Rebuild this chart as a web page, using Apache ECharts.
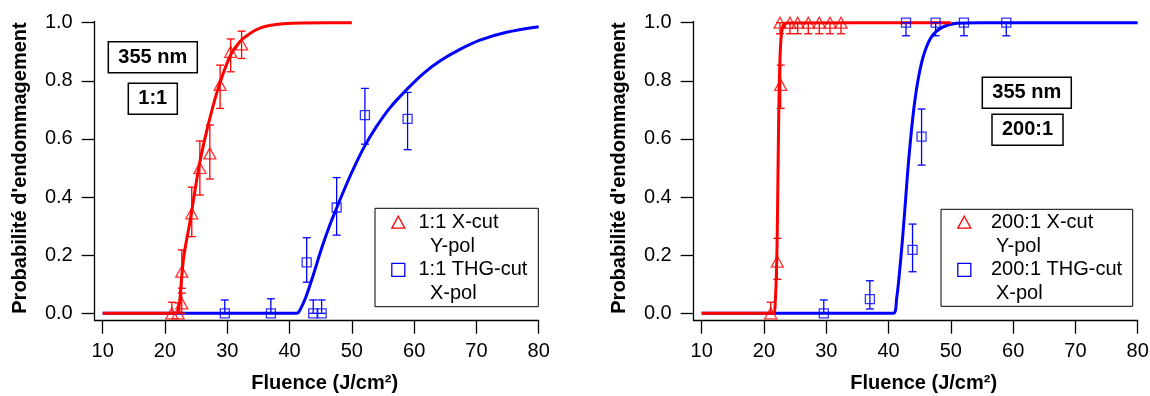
<!DOCTYPE html>
<html><head><meta charset="utf-8">
<script src="https://cdn.jsdelivr.net/npm/echarts@6/dist/echarts.min.js"></script>
<style>html,body{margin:0;padding:0;background:#fff}#c{width:1150px;height:396px}</style>
</head><body><div id="c"></div>
<script>
// ---------- data ----------
// Left panel, 1:1 X-cut Y-pol (red triangles)
const l11XcutX    = [21.1, 22.1, 22.7, 22.7, 24.3, 25.6, 27.2, 28.85, 30.55, 32.3];
const l11XcutY    = [0, 0, 0.034, 0.143, 0.344, 0.50, 0.55, 0.786, 0.90, 0.925];
const l11XcutLow  = [0, 0, 0, 0.086, 0.264, 0.407, 0.462, 0.705, 0.831, 0.877];
const l11XcutHigh = [0.038, 0.036, 0.07, 0.218, 0.434, 0.593, 0.648, 0.854, 0.944, 0.971];
// Left panel, 1:1 THG-cut X-pol (blue squares)
const l11ThgX    = [29.6, 37.0, 42.75, 43.8, 45.15, 47.56, 52.1, 58.95];
const l11ThgY    = [0, 0, 0.175, 0, 0, 0.364, 0.682, 0.669];
const l11ThgLow  = [0, 0, 0.107, 0, 0, 0.269, 0.582, 0.563];
const l11ThgHigh = [0.046, 0.05, 0.26, 0.046, 0.046, 0.467, 0.774, 0.76];
// Left panel fitted curves
const l11XcutFitX = [10, 21.85, 22.3, 22.62, 23.05, 24.01, 24.7, 25.5, 26.42, 27.33, 28.29, 29.36, 30.54, 32.04, 33.64, 35.25, 37, 39, 42, 46, 50];
const l11XcutFitY = [0, 0, 0.029, 0.109, 0.2, 0.315, 0.407, 0.51, 0.602, 0.682, 0.757, 0.826, 0.889, 0.935, 0.963, 0.981, 0.991, 0.996, 0.999, 1, 1];
const l11ThgFitX = [10, 41.13, 41.94, 42.74, 43.81, 45.15, 46.48, 47.56, 49.16, 50.76, 52.1, 53.97, 56.11, 58.95, 61.47, 64.14, 67.35, 70.56, 74.84, 80];
const l11ThgFitY = [0, 0, 0.023, 0.063, 0.132, 0.224, 0.305, 0.362, 0.445, 0.52, 0.577, 0.643, 0.707, 0.773, 0.825, 0.868, 0.908, 0.940, 0.967, 0.986];

// Right panel, 200:1 X-cut Y-pol (red triangles)
const r200XcutX    = [21.08, 22.14, 22.68, 22.57, 24.17, 25.41, 27.11, 28.88, 30.6, 32.37];
const r200XcutY    = [0, 0.178, 0.786, 1, 1, 1, 1, 1, 1, 1];
const r200XcutLow  = [0, 0.117, 0.705, 0.962, 0.962, 0.962, 0.962, 0.962, 0.962, 0.962];
const r200XcutHigh = [0.038, 0.258, 0.854, 1, 1, 1, 1, 1, 1, 1];
// Right panel, 200:1 THG-cut X-pol (blue squares)
const r200ThgX    = [29.6, 37.0, 42.8, 43.85, 45.3, 47.56, 52.1, 58.9];
const r200ThgY    = [0, 0.049, 1, 0.218, 0.608, 1, 1, 1];
const r200ThgLow  = [0, 0.015, 0.955, 0.143, 0.51, 0.955, 0.955, 0.955];
const r200ThgHigh = [0.046, 0.112, 1, 0.307, 0.703, 1, 1, 1];
// Right panel fitted curves
const r200XcutFitX = [10, 21.6, 21.81, 21.97, 22.09, 22.2, 22.3, 22.41, 22.57, 22.78, 23.1, 23.64, 50];
const r200XcutFitY = [0, 0, 0.04, 0.12, 0.224, 0.396, 0.568, 0.74, 0.877, 0.958, 0.992, 0.999, 1];
const r200ThgFitX = [10, 40.75, 41.3, 41.72, 42.2, 42.63, 43.07, 43.55, 44.13, 44.88, 45.73, 46.92, 48.52, 50.93, 54.67, 80];
const r200ThgFitY = [0, 0, 0.052, 0.132, 0.246, 0.361, 0.487, 0.602, 0.717, 0.82, 0.895, 0.952, 0.983, 0.998, 1, 1];

// Axis settings
const xMin = 10, xMax = 80, xStep = 10;
const yMin = 0, yMax = 1, yStep = 0.2;
const xTitle = 'Fluence (J/cm²)';
const yTitle = "Probabilité d'endommagement";

// ---------- chart ----------
const RED = '#ff0000', BLUE = '#0000ff';
const FF = "'Liberation Sans', Arial, Helvetica, sans-serif";
const zip = (a, b) => a.map((v, i) => [v, b[i]]);
const zip3 = (a, b, c) => a.map((v, i) => [v, b[i], c[i]]);

function fitLine(xs, ys, color, gi, z) {
  return { type: 'line', xAxisIndex: gi, yAxisIndex: gi, data: zip(xs, ys),
    showSymbol: false, symbol: 'none', smooth: 0.3, clip: false, z: z,
    lineStyle: { color: color, width: 3 }, silent: true, animation: false };
}
function markers(xs, ys, symbol, size, color, gi) {
  return { type: 'scatter', xAxisIndex: gi, yAxisIndex: gi, data: zip(xs, ys),
    symbol: symbol, symbolSize: size, clip: false, z: 5,
    itemStyle: { color: 'rgba(0,0,0,0)', borderColor: color, borderWidth: 1.3 }, animation: false };
}
function errBars(xs, lo, hi, color, gi) {
  return { type: 'custom', xAxisIndex: gi, yAxisIndex: gi, data: zip3(xs, lo, hi),
    encode: { x: 0, y: [1, 2] }, clip: false, z: 4, animation: false,
    renderItem: function (params, api) {
      const x = api.value(0);
      const p1 = api.coord([x, api.value(1)]);
      const p2 = api.coord([x, api.value(2)]);
      const w = 4;
      const st = { stroke: color, lineWidth: 1.3, fill: null };
      return { type: 'group', children: [
        { type: 'line', shape: { x1: p1[0], y1: p1[1], x2: p2[0], y2: p2[1] }, style: st },
        { type: 'line', shape: { x1: p1[0] - w, y1: p1[1], x2: p1[0] + w, y2: p1[1] }, style: st },
        { type: 'line', shape: { x1: p2[0] - w, y1: p2[1], x2: p2[0] + w, y2: p2[1] }, style: st }
      ] };
    } };
}

function mainX(gi) {
  return { gridIndex: gi, type: 'value', min: xMin, max: xMax, interval: xStep, offset: 7.4,
    axisLine: { show: false, onZero: false },
    axisTick: { show: true, length: 13, lineStyle: { color: '#000', width: 1.3 } },
    axisLabel: { fontSize: 20, color: '#000', margin: 21, fontFamily: FF },
    splitLine: { show: false },
    name: xTitle, nameLocation: 'middle', nameGap: 53,
    nameTextStyle: { fontSize: 20, fontWeight: 'bold', color: '#000', fontFamily: FF, padding: [0, 0, 0, 8] } };
}
function mainY(gi) {
  return { gridIndex: gi, type: 'value', min: yMin, max: yMax, interval: yStep, offset: 8,
    axisLine: { show: false, onZero: false },
    axisTick: { show: true, length: 13, lineStyle: { color: '#000', width: 1.3 } },
    axisLabel: { fontSize: 20, color: '#000', margin: 22, fontFamily: FF, formatter: v => v.toFixed(1) },
    splitLine: { show: false },
    name: yTitle, nameLocation: 'middle', nameGap: 64, nameRotate: 90,
    nameTextStyle: { fontSize: 20, fontWeight: 'bold', color: '#000', fontFamily: FF } };
}
function frameAxis(gi) {
  return { gridIndex: gi, type: 'value', min: 0, max: 1,
    axisLine: { show: true, onZero: false, lineStyle: { color: '#000', width: 1.3 } },
    axisTick: { show: false }, axisLabel: { show: false }, splitLine: { show: false } };
}

function boxTitle(text, left, top) {
  return { text: text, left: left, top: top, padding: [5, 10], borderColor: '#000', borderWidth: 1.5,
    textStyle: { fontSize: 20, fontWeight: 'bold', color: '#000', fontFamily: FF, lineHeight: 21 } };
}

function legendBox(x, y, w, h, symX, textX1, textX2, rows, labels) {
  const tri = 6.5;
  const txt = (t, tx, ty) => ({ type: 'text', x: tx, y: ty, z: 10,
    style: { text: t, fontSize: 20, fontFamily: FF, fill: '#000', verticalAlign: 'middle', align: 'left' } });
  return [
    { type: 'rect', z: 9, shape: { x: x, y: y, width: w, height: h }, style: { fill: 'rgba(0,0,0,0)', stroke: '#000', lineWidth: 1 } },
    { type: 'polygon', z: 10, shape: { points: [[symX, rows[0] - tri], [symX + tri, rows[0] + 5.5], [symX - tri, rows[0] + 5.5]] },
      style: { fill: 'rgba(0,0,0,0)', stroke: RED, lineWidth: 1.3 } },
    { type: 'rect', z: 10, shape: { x: symX - 6.5, y: rows[2] - 6, width: 13, height: 13 },
      style: { fill: 'rgba(0,0,0,0)', stroke: BLUE, lineWidth: 1.3 } },
    txt(labels[0], textX1, rows[0]), txt(labels[1], textX2, rows[1]),
    txt(labels[2], textX1, rows[2]), txt(labels[3], textX2, rows[3])
  ];
}

const chart = echarts.init(document.getElementById('c'), null, { renderer: 'canvas' });
chart.setOption({
  animation: false,
  backgroundColor: '#fff',
  textStyle: { fontFamily: FF },
  title: [
    boxTitle('355 nm', 108.3, 41.7), boxTitle('1:1', 128.3, 83.3),
    boxTitle('355 nm', 982.3, 77.3), boxTitle('200:1', 992, 114.3)
  ],
  grid: [
    { left: 102.7, top: 22.7, width: 436, height: 290.6, outerBoundsMode: 'none', containLabel: false },
    { left: 701.7, top: 22.7, width: 436, height: 290.6, outerBoundsMode: 'none', containLabel: false },
    { left: 94.7, top: 21.5, width: 444, height: 299.2, outerBoundsMode: 'none', containLabel: false },
    { left: 693.7, top: 21.5, width: 444, height: 299.2, outerBoundsMode: 'none', containLabel: false }
  ],
  xAxis: [mainX(0), mainX(1), frameAxis(2), frameAxis(3)],
  yAxis: [mainY(0), mainY(1), frameAxis(2), frameAxis(3)],
  series: [
    fitLine(l11ThgFitX, l11ThgFitY, BLUE, 0, 2),
    fitLine(l11XcutFitX, l11XcutFitY, RED, 0, 3),
    errBars(l11XcutX, l11XcutLow, l11XcutHigh, RED, 0),
    errBars(l11ThgX, l11ThgLow, l11ThgHigh, BLUE, 0),
    markers(l11XcutX, l11XcutY, 'triangle', [12, 11], RED, 0),
    markers(l11ThgX, l11ThgY, 'rect', [9, 9], BLUE, 0),
    fitLine(r200ThgFitX, r200ThgFitY, BLUE, 1, 2),
    fitLine(r200XcutFitX, r200XcutFitY, RED, 1, 3),
    errBars(r200XcutX, r200XcutLow, r200XcutHigh, RED, 1),
    errBars(r200ThgX, r200ThgLow, r200ThgHigh, BLUE, 1),
    markers(r200XcutX, r200XcutY, 'triangle', [12, 11], RED, 1),
    markers(r200ThgX, r200ThgY, 'rect', [9, 9], BLUE, 1)
  ],
  graphic: [
    ...legendBox(375, 208.3, 163.3, 98.4, 398.3, 418.5, 430, [222.7, 246.7, 269.3, 293],
      ['1:1 X-cut', 'Y-pol', '1:1 THG-cut', 'X-pol']),
    ...legendBox(941, 209.3, 191.7, 97, 964.3, 991, 996, [222.7, 246.7, 269.3, 293.3],
      ['200:1 X-cut', 'Y-pol', '200:1 THG-cut', 'X-pol'])
  ]
});
</script>
</body></html>
